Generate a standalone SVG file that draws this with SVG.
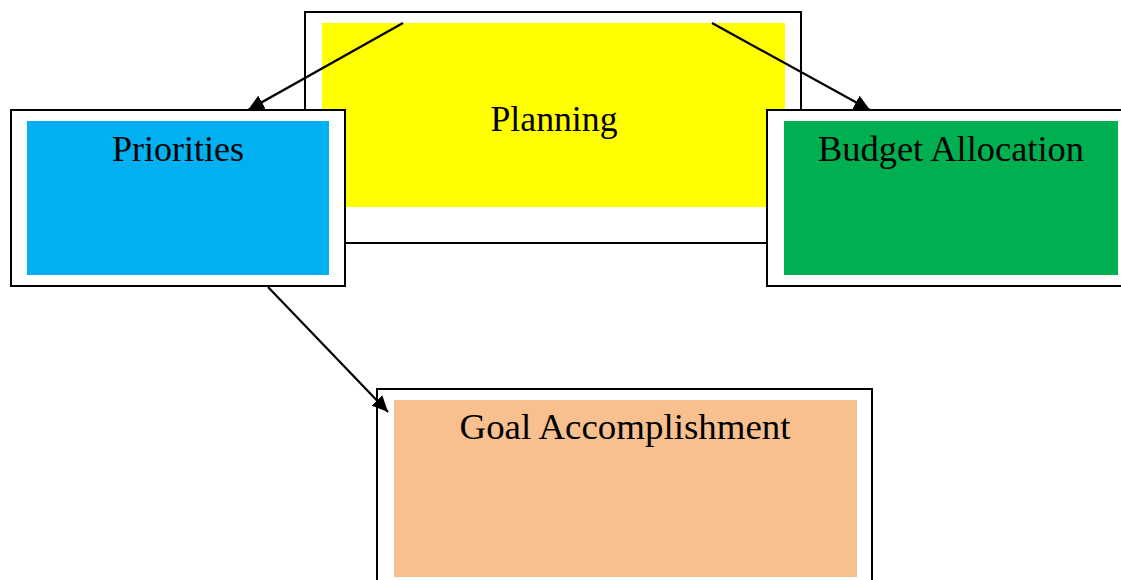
<svg xmlns="http://www.w3.org/2000/svg" width="1121" height="580" viewBox="0 0 1121 580">
<style>
.frame{fill:#ffffff;stroke:#000000;stroke-width:2}
.lbl{font-family:"Liberation Serif","DejaVu Serif",serif;font-size:35px;fill:#000000;text-anchor:middle}
.conn{stroke:#000000;stroke-width:2.2;fill:none;marker-end:url(#ah)}
</style>
<defs>
<marker id="ah" markerUnits="userSpaceOnUse" markerWidth="17" markerHeight="15" refX="16" refY="7.5" orient="auto">
<path d="M0,0 L16,7.5 L0,15 Z" fill="#000000"/>
</marker>
</defs>
<rect width="1121" height="580" fill="#ffffff"/>
<g id="planning">
<rect class="frame" x="305" y="12" width="496" height="231"/>
<rect x="322" y="23" width="463" height="184" fill="#ffff00"/>
<text class="lbl" x="554" y="131" textLength="127" lengthAdjust="spacingAndGlyphs">Planning</text>
</g>
<g id="goal">
<rect class="frame" x="377" y="389" width="495" height="200"/>
<rect x="394" y="400" width="463" height="177" fill="#f8c08e"/>
<text class="lbl" x="625" y="439" textLength="331" lengthAdjust="spacingAndGlyphs">Goal Accomplishment</text>
</g>
<g id="connectors">
<line class="conn" x1="403" y1="23" x2="248" y2="110"/>
<line class="conn" x1="712" y1="23" x2="870" y2="110"/>
<line class="conn" x1="268" y1="287" x2="388" y2="412"/>
</g>
<g id="priorities">
<rect class="frame" x="11" y="110" width="334" height="176"/>
<rect x="27" y="121" width="302" height="154" fill="#00b0f0"/>
<text class="lbl" x="178" y="161" textLength="132" lengthAdjust="spacingAndGlyphs">Priorities</text>
</g>
<g id="budget">
<rect class="frame" x="767" y="110" width="370" height="176"/>
<rect x="784" y="121" width="334" height="154" fill="#00b050"/>
<text class="lbl" x="951" y="161" textLength="266" lengthAdjust="spacingAndGlyphs">Budget Allocation</text>
</g>
</svg>
